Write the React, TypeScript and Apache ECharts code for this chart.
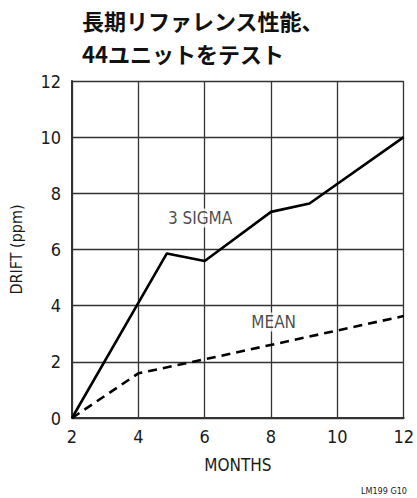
import React, { useEffect, useRef } from "react";
import * as echarts from "echarts";

const titleLines = ["長期リファレンス性能、", "44ユニットをテスト"];
const xTicks = [2, 4, 6, 8, 10, 12];
const yTicks = [0, 2, 4, 6, 8, 10, 12];
const sigmaMonths = [2, 4.86, 6, 8, 9.16, 12];
const sigmaDrift = [0, 5.86, 5.59, 7.34, 7.64, 10];
const meanMonths = [2, 4, 6, 12];
const meanDrift = [0, 1.59, 2.09, 3.63];
const seriesNames = ["3 SIGMA", "MEAN"];
const labelAnchors = [
  [5.86, 7.12],
  [8.08, 3.42],
];

const FONT = "'DejaVu Sans Condensed', 'Liberation Sans Narrow', 'Liberation Sans', Arial, sans-serif";
const TITLE_FONT = "bold 22px 'Noto Sans CJK JP', sans-serif";
const TXT = "#1a1a1a";

export default function App() {
  const ref = useRef<HTMLDivElement>(null);
  useEffect(() => {
    if (!ref.current) return;
    const chart = echarts.init(ref.current, undefined, { renderer: "svg" });
    chart.setOption({
      animation: false,
      backgroundColor: "#ffffff",
      grid: { left: 72, top: 81, right: 8, bottom: 80, containLabel: false },
      graphic: [
        {
          type: "text",
          left: 82,
          top: 9,
          style: { text: titleLines[0], font: TITLE_FONT, fill: "#111" },
        },
        {
          type: "text",
          left: 82,
          top: 42,
          style: { text: titleLines[1], font: TITLE_FONT, fill: "#111" },
        },
        {
          type: "text",
          right: 10,
          bottom: 3,
          style: { text: "LM199 G10", font: `9px ${FONT}`, fill: TXT },
        },
      ],
      xAxis: {
        type: "value",
        min: xTicks[0],
        max: xTicks[xTicks.length - 1],
        interval: 2,
        name: "MONTHS",
        nameLocation: "middle",
        nameGap: 38,
        nameTextStyle: { fontFamily: FONT, fontSize: 17, color: TXT },
        axisLine: { show: true, lineStyle: { color: "#333", width: 2 } },
        axisTick: { show: false },
        axisLabel: { fontFamily: FONT, fontSize: 18, color: TXT, margin: 9 },
        splitLine: { show: true, lineStyle: { color: "#333", width: 1.3 } },
      },
      yAxis: {
        type: "value",
        min: yTicks[0],
        max: yTicks[yTicks.length - 1],
        interval: 2,
        name: "DRIFT (ppm)",
        nameLocation: "middle",
        nameGap: 48,
        nameTextStyle: { fontFamily: FONT, fontSize: 16, color: TXT },
        axisLine: { show: true, lineStyle: { color: "#333", width: 2 } },
        axisTick: { show: false },
        axisLabel: { fontFamily: FONT, fontSize: 18, color: TXT, margin: 11 },
        splitLine: { show: true, lineStyle: { color: "#333", width: 1.3 } },
      },
      series: [
        {
          type: "line",
          name: seriesNames[0],
          data: sigmaMonths.map((m, i) => [m, sigmaDrift[i]]),
          symbol: "none",
          lineStyle: { color: "#000", width: 2.6 },
          z: 5,
        },
        {
          type: "line",
          name: seriesNames[1],
          data: meanMonths.map((m, i) => [m, meanDrift[i]]),
          symbol: "none",
          lineStyle: { color: "#000", width: 2.6, type: [9, 6] },
          z: 5,
        },
        {
          type: "scatter",
          data: labelAnchors.map((p, i) => ({ value: p, name: seriesNames[i] })),
          symbolSize: 0,
          silent: true,
          label: {
            show: true,
            position: "inside",
            formatter: (p: any) => p.name,
            fontFamily: FONT,
            fontSize: 17,
            color: TXT,
            backgroundColor: "#fff",
            padding: [1, 2],
          },
          z: 6,
        },
      ],
    });
    return () => chart.dispose();
  }, []);
  return <div ref={ref} style={{ width: 417, height: 498, position: "absolute", left: 0, top: 0 }} />;
}
